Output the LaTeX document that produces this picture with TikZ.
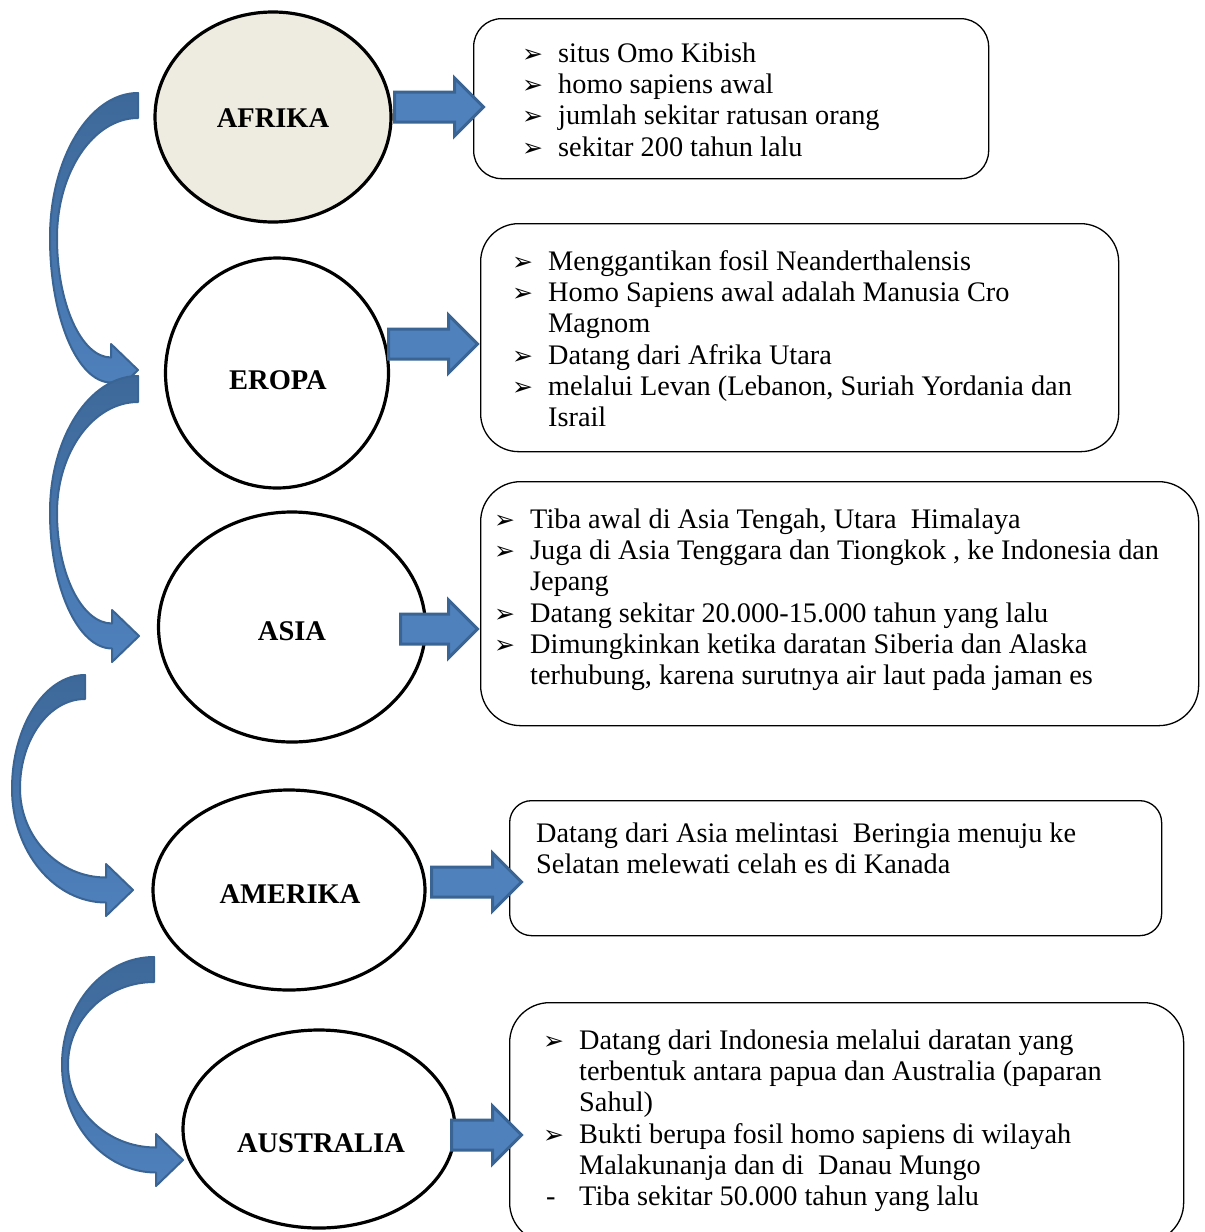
\documentclass[tikz,border=0pt]{standalone}
\usepackage{fontspec}
\setmainfont{Liberation Serif}
\newfontfamily\symfont{DejaVu Sans}
\usetikzlibrary{shapes.geometric,shapes.arrows}

\definecolor{beige}{HTML}{EEECE1}
\definecolor{arrowfill}{HTML}{4F81BD}
\definecolor{arrowline}{HTML}{3A6494}
\definecolor{arrowdark}{HTML}{3D6899}

\newcommand\bul{\strut\makebox[36pt][l]{\raisebox{0pt}{\symfont\fontsize{25}{25}\selectfont ➢}}}
\newcommand\ind{\strut\hspace*{36pt}}

% tail x, tail y, tail width, outer left x, inner left x, tip x, tip y
\newcommand\curvearrow[7]{%
  \pgfmathsetmacro\cBx{#6-27}
  \pgfmathsetmacro\cYo{#7+12.5}
  \pgfmathsetmacro\cYi{#7-12.5}
  \pgfmathsetmacro\cMo{(#2+\cYo)/2}
  \pgfmathsetmacro\cTb{#2+#3}
  \pgfmathsetmacro\cMi{(\cTb+\cYi)/2}
  \path[curvearr] (#1,#2)
    .. controls ({#1-0.55*(#1-#4)},#2) and (#4,{\cMo-0.55*(\cMo-#2)}) .. (#4,\cMo)
    .. controls (#4,{\cMo+0.55*(\cYo-\cMo)}) and ({\cBx-0.55*(\cBx-#4)},\cYo) .. (\cBx,\cYo)
    -- (\cBx,#7+26) -- (#6,#7) -- (\cBx,#7-26) -- (\cBx,\cYi)
    .. controls ({\cBx-0.55*(\cBx-#5)},\cYi) and (#5,{\cMi+0.55*(\cYi-\cMi)}) .. (#5,\cMi)
    .. controls (#5,{\cMi-0.55*(\cMi-\cTb)}) and ({#1-0.55*(#1-#5)},\cTb) .. (#1,\cTb)
    -- cycle;
}

\tikzset{
  continent/.style={ellipse, draw, line width=3.2pt, inner sep=0pt},
  cname/.style={inner sep=0pt, font=\fontsize{28.5}{30}\selectfont\bfseries},
  infobox/.style={draw, rounded corners=30pt, line width=1.3pt, anchor=north west, inner sep=0pt},
  infotext/.style={anchor=north west, align=left, inner sep=0pt, font=\fontsize{28.3}{31.3}\selectfont},
  blockarr/.style={single arrow, fill=arrowfill, draw=arrowline, line width=3pt,
    single arrow head extend=14pt, single arrow tip angle=90,
    inner xsep=0pt, inner ysep=13.5pt, text height=0pt, text depth=0pt, anchor=tail},
  curvearr/.style={top color=arrowdark, bottom color=arrowfill, draw=arrowline, line width=2pt, line join=round}
}

\begin{document}
\begin{tikzpicture}[x=1pt,y=-1pt]
    \clip (0,0) rectangle (1205,1232);
    \fill[white] (0,0) rectangle (1205,1232);

    % curved arrows on the left
    \curvearrow{138}{93}{25}{50}{57}{138}{370}
    \curvearrow{138}{376}{26}{50}{57}{139}{636}
    \curvearrow{85}{675}{24}{12}{20}{133}{890}
    \curvearrow{154}{957}{25}{62}{68}{183}{1160}

    % continents
    \node[continent, fill=beige, minimum width=236pt, minimum height=210pt] (afrika) at (273,117) {};
    \node[continent, minimum width=223pt, minimum height=230pt] (eropa) at (277,373) {};
    \node[continent, minimum width=267pt, minimum height=230pt] (asia) at (292,627) {};
    \node[continent, minimum width=272pt, minimum height=200pt] (amerika) at (289,890) {};
    \node[continent, minimum width=272pt, minimum height=198pt] (australia) at (319,1129) {};

    \node[cname] (afrika-t) at (273,118) {AFRIKA};
    \node[cname] (eropa-t) at (278,380) {EROPA};
    \node[cname] (asia-t) at (292,631) {ASIA};
    \node[cname] (amerika-t) at (290,894) {AMERIKA};
    \node[cname] (australia-t) at (321,1143) {AUSTRALIA};

    % boxes
    \node[infobox, rounded corners=28pt, minimum width=515pt, minimum height=160pt] (box-afrika) at (473,18) {};
    \node[infobox, rounded corners=38pt, minimum width=638pt, minimum height=228pt] (box-eropa) at (480,223) {};
    \node[infobox, rounded corners=40pt, minimum width=718pt, minimum height=244pt] (box-asia) at (480,481) {};
    \node[infobox, rounded corners=22pt, minimum width=652pt, minimum height=135pt] (box-amerika) at (509,800) {};
    \node[infobox, rounded corners=40pt, minimum width=674pt, minimum height=240pt] (box-australia) at (509,1002) {};

    \node[infotext] (txt-afrika) at ([shift={(49,22)}]box-afrika.north west) {%
      \bul situs Omo Kibish\\
      \bul homo sapiens awal\\
      \bul jumlah sekitar ratusan orang\\
      \bul sekitar 200 tahun lalu};
    \node[infotext] (txt-eropa) at ([shift={(32,25)}]box-eropa.north west) {%
      \bul Menggantikan fosil Neanderthalensis\\
      \bul Homo Sapiens awal adalah Manusia Cro\\
      \ind Magnom\\
      \bul Datang dari Afrika Utara\\
      \bul melalui Levan (Lebanon, Suriah Yordania dan\\
      \ind Israil};
    \node[infotext] (txt-asia) at ([shift={(14,25)}]box-asia.north west) {%
      \bul Tiba awal di Asia Tengah, Utara\ \ Himalaya\\
      \bul Juga di Asia Tenggara dan Tiongkok , ke Indonesia dan\\
      \ind Jepang\\
      \bul Datang sekitar 20.000-15.000 tahun yang lalu\\
      \bul Dimungkinkan ketika daratan Siberia dan Alaska\\
      \ind terhubung, karena surutnya air laut pada jaman es};
    \node[infotext] (txt-amerika) at ([shift={(27,20)}]box-amerika.north west) {%
      \strut Datang dari Asia melintasi\ \ Beringia menuju ke\\
      Selatan melewati celah es di Kanada};
    \node[infotext] (txt-australia) at ([shift={(34,25)}]box-australia.north west) {%
      \bul Datang dari Indonesia melalui daratan yang\\
      \ind terbentuk antara papua dan Australia (paparan\\
      \ind Sahul)\\
      \bul Bukti berupa fosil homo sapiens di wilayah\\
      \ind Malakunanja dan di\ \ Danau Mungo\\
      \strut\makebox[36pt][l]{\hspace{3pt}-}Tiba sekitar 50.000 tahun yang lalu};

    % straight arrows
    \node[blockarr, minimum height=89pt] (arr-afrika) at (393,107) {};
    \node[blockarr, minimum height=89pt] (arr-eropa) at (387,344) {};
    \node[blockarr, minimum height=77pt] (arr-asia) at (399,629) {};
    \node[blockarr, minimum height=90pt] (arr-amerika) at (430,882) {};
    \node[blockarr, minimum height=70pt] (arr-australia) at (450,1135) {};
\end{tikzpicture}
\end{document}
